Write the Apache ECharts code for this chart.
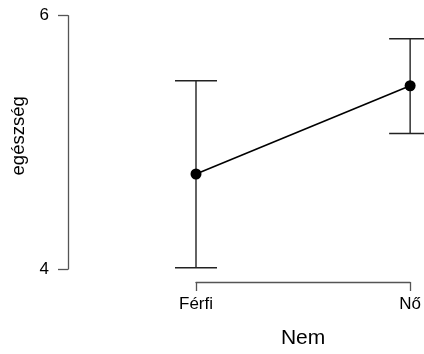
<!DOCTYPE html>
<html>
<head>
<meta charset="utf-8">
<script src="https://cdn.jsdelivr.net/npm/echarts@6/dist/echarts.min.js"></script>
<style>
html,body{margin:0;padding:0;background:#fff;}
#chart{width:424px;height:354px;}
</style>
</head>
<body>
<div id="chart"></div>
<script>
const categories = ['Férfi', 'Nő'];
const means = [4.75, 5.447];
const lower = [4.01, 5.07];
const upper = [5.486, 5.818];
const yTicks = [4, 6];

const chart = echarts.init(document.getElementById('chart'), null, {renderer: 'canvas'});
const font = 'Liberation Sans, Arial, sans-serif';

chart.setOption({
  animation: false,
  backgroundColor: '#fff',
  grid: {left: 196, right: 12, top: 15.7, bottom: 81.7},
  xAxis: {
    type: 'category',
    data: categories,
    boundaryGap: false,
    offset: 13,
    name: 'Nem',
    nameLocation: 'middle',
    nameGap: 46,
    nameTextStyle: {fontFamily: font, fontSize: 21, color: '#000'},
    axisLine: {show: true, lineStyle: {color: '#555', width: 1.3}},
    axisTick: {show: true, length: 9, alignWithLabel: true, lineStyle: {color: '#555', width: 1.3}},
    axisLabel: {fontFamily: font, fontSize: 17, color: '#000', margin: 14},
    splitLine: {show: false}
  },
  yAxis: {
    type: 'value',
    min: yTicks[0],
    max: yTicks[yTicks.length - 1],
    interval: 2,
    offset: 128,
    name: 'egészség',
    nameLocation: 'middle',
    nameGap: 40,
    nameRotate: 90,
    nameTextStyle: {fontFamily: font, fontSize: 18.5, color: '#000', padding: [0, 0, 0, 13]},
    axisLine: {show: true, lineStyle: {color: '#555', width: 1.3}},
    axisTick: {show: true, length: 10, lineStyle: {color: '#555', width: 1.3}},
    axisLabel: {fontFamily: font, fontSize: 17, color: '#000', margin: 19},
    splitLine: {show: false}
  },
  series: [
    {
      type: 'custom',
      clip: false,
      z: 1,
      data: categories.map((c, i) => [i, lower[i], upper[i]]),
      renderItem: function (params, api) {
        const x = api.value(0);
        const lo = api.coord([x, api.value(1)]);
        const hi = api.coord([x, api.value(2)]);
        const hw = 21;
        const style = {stroke: '#222', lineWidth: 1.4};
        return {
          type: 'group',
          children: [
            {type: 'line', shape: {x1: lo[0], y1: lo[1], x2: hi[0], y2: hi[1]}, style: style},
            {type: 'line', shape: {x1: lo[0] - hw, y1: lo[1], x2: lo[0] + hw, y2: lo[1]}, style: style},
            {type: 'line', shape: {x1: hi[0] - hw, y1: hi[1], x2: hi[0] + hw, y2: hi[1]}, style: style}
          ]
        };
      }
    },
    {
      type: 'line',
      clip: false,
      z: 3,
      data: means,
      symbol: 'circle',
      symbolSize: 11,
      itemStyle: {color: '#000'},
      lineStyle: {color: '#000', width: 1.6}
    }
  ]
});
</script>
</body>
</html>
